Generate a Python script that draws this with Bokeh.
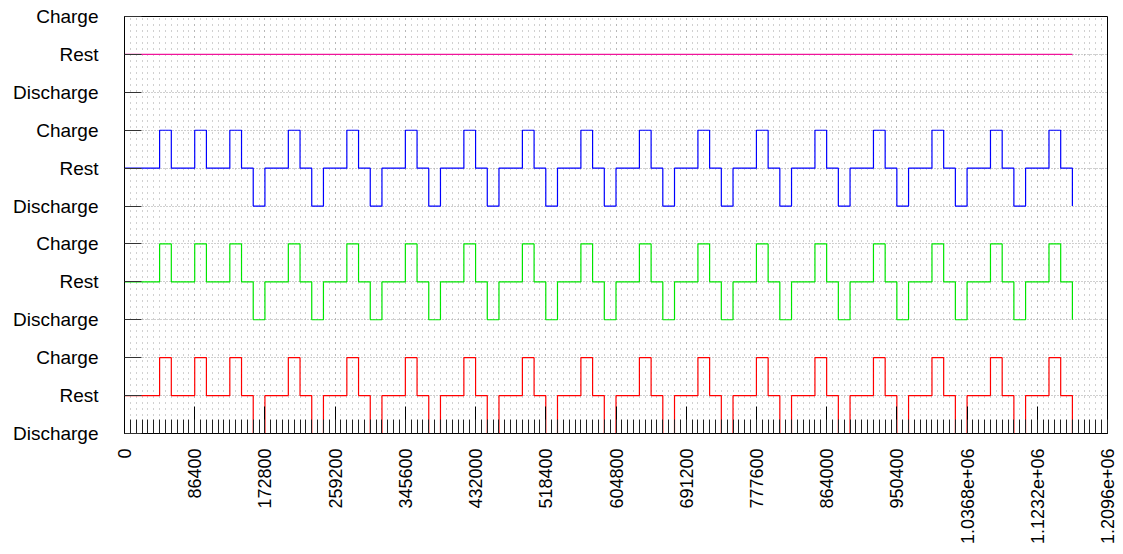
import math
from bokeh.plotting import figure
from bokeh.models import FixedTicker, Range1d
from bokeh.embed import file_html
from bokeh.resources import INLINE

# ---- data ----
# change points (hours) and state codes: 0 = Discharge, 1 = Rest, 2 = Charge
CHANGE_HOURS = [0, 12, 16, 24, 28, 36, 40, 44, 48, 56, 60, 64, 68, 76, 80, 84, 88,
                96, 100, 104, 108, 116, 120, 124, 128, 136, 140, 144, 148, 156, 160,
                164, 168, 176, 180, 184, 188, 196, 200, 204, 208, 216, 220, 224, 228,
                236, 240, 244, 248, 256, 260, 264, 268, 276, 280, 284, 288, 296, 300,
                304, 308, 316, 320, 324]
STATES_RED = [1, 2, 1, 2, 1, 2, 1, 0, 1, 2, 1, 0, 1, 2, 1, 0, 1,
              2, 1, 0, 1, 2, 1, 0, 1, 2, 1, 0, 1, 2, 1,
              0, 1, 2, 1, 0, 1, 2, 1, 0, 1, 2, 1, 0, 1,
              2, 1, 0, 1, 2, 1, 0, 1, 2, 1, 0, 1, 2, 1,
              0, 1, 2, 1, 0]
STATES_GREEN = list(STATES_RED)
STATES_BLUE = list(STATES_RED)
MAGENTA_HOURS = [0, 324]
STATES_MAGENTA = [1, 1]

SERIES_OFFSETS = {"red": 0, "green": 3, "blue": 6, "magenta": 9}
SERIES_COLORS = {"red": "#ff0000", "green": "#00e600", "blue": "#0000ff",
                 "magenta": "#f0149a"}

X_TICKS = [0, 86400, 172800, 259200, 345600, 432000, 518400, 604800, 691200,
           777600, 864000, 950400, 1036800, 1123200, 1209600]
X_LABELS = ["0", "86400", "172800", "259200", "345600", "432000", "518400",
            "604800", "691200", "777600", "864000", "950400", "1.0368e+06",
            "1.1232e+06", "1.2096e+06"]
X_MINOR_STEP = 7200
Y_TICKS = list(range(12))
Y_LABELS = ["Discharge", "Rest", "Charge"] * 4

# ---- figure ----
p = figure(width=1118, height=552, output_backend="svg", toolbar_location=None,
           x_range=Range1d(0, 1209600), y_range=Range1d(0, 11),
           min_border_left=124, min_border_right=11, min_border_top=16,
           min_border_bottom=119)
p.background_fill_color = "white"
p.border_fill_color = "white"
p.outline_line_color = "black"
p.outline_line_width = 1

x_minor = list(range(0, 1209600 + 1, X_MINOR_STEP))

p.xaxis.ticker = FixedTicker(ticks=X_TICKS, minor_ticks=x_minor)
p.xaxis.major_label_overrides = {t: l for t, l in zip(X_TICKS, X_LABELS)}
p.xaxis.major_label_orientation = math.pi / 2
p.xaxis.major_tick_in = 27
p.xaxis.major_tick_out = 0
p.xaxis.minor_tick_in = 14
p.xaxis.minor_tick_out = 0
p.xaxis.major_label_standoff = 15
p.xaxis.axis_line_color = "black"
p.xaxis.major_tick_line_color = "black"
p.xaxis.minor_tick_line_color = "#222222"

p.yaxis.ticker = FixedTicker(ticks=Y_TICKS, minor_ticks=[])
p.yaxis.major_label_overrides = {t: l for t, l in zip(Y_TICKS, Y_LABELS)}
p.yaxis.major_tick_in = 17
p.yaxis.major_tick_out = 0
p.yaxis.minor_tick_line_color = None
p.yaxis.major_label_standoff = 26
p.yaxis.axis_line_color = "black"
p.yaxis.major_tick_line_color = "#333333"

for ax in (p.xaxis, p.yaxis):
    ax.major_label_text_font = "Liberation Sans"
    ax.major_label_text_color = "black"
p.xaxis.major_label_text_font_size = "18px"
p.yaxis.major_label_text_font_size = "19px"

p.xgrid.grid_line_color = "#a0a0a0"
p.xgrid.grid_line_dash = "1 5"
p.xgrid.minor_grid_line_color = "#a0a0a0"
p.xgrid.minor_grid_line_dash = "1 5"
p.ygrid.grid_line_color = "#a0a0a0"
p.ygrid.grid_line_dash = "1 2"

# ---- series ----
sec = [h * 3600 for h in CHANGE_HOURS]
for key, states in (("red", STATES_RED), ("green", STATES_GREEN),
                    ("blue", STATES_BLUE)):
    off = SERIES_OFFSETS[key]
    p.step(sec, [s + off for s in states], mode="after",
           line_color=SERIES_COLORS[key], line_width=1.2)

p.step([h * 3600 for h in MAGENTA_HOURS],
       [s + SERIES_OFFSETS["magenta"] for s in STATES_MAGENTA], mode="after",
       line_color=SERIES_COLORS["magenta"], line_width=1.2)

open("out.html", "w").write(file_html(p, INLINE))
